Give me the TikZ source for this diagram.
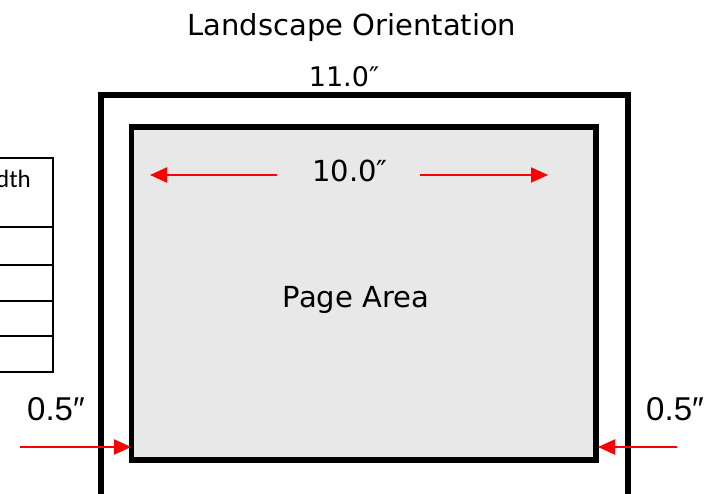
\documentclass[tikz,border=0pt]{standalone}
\usepackage{fontspec}
\setmainfont{DejaVu Sans}
\newfontfamily\arialfont{Liberation Sans}
\newfontfamily\calfont{Carlito}
\usetikzlibrary{arrows.meta}
\definecolor{pagegray}{HTML}{E8E8E8}
\definecolor{arrowred}{HTML}{FF0000}
\tikzset{
  label/.style={inner sep=0pt, anchor=base, font=\fontsize{29}{34}\selectfont},
  dimlabel/.style={inner sep=0pt, anchor=base, font=\arialfont\fontsize{33}{38}\selectfont},
  frame/.style={draw=black, line width=5.5pt},
  redarrow/.style={draw=arrowred, line width=2pt, -{Triangle[length=17pt,width=15pt]}},
  tableline/.style={draw=black, line width=1.3pt}
}
\begin{document}
\begin{tikzpicture}[x=1pt,y=-1pt]
\useasboundingbox (0,0) rectangle (712,493);
\clip (0,0) rectangle (712,493);
% left partial table
\draw[tableline] (-100,158) rectangle (53,372);
\foreach \yy in {227,265,301,336} \draw[tableline] (-100,\yy) -- (53,\yy);
\node[inner sep=0pt, anchor=base east, font=\calfont\fontsize{25}{30}\selectfont] (tw) at (31,187) {Width};
% frames
\draw[frame] (101,95) rectangle (628,540);
\draw[frame, fill=pagegray] (131.5,127) rectangle (596,460);
% labels
\node[label] (title) at (352,35) {Landscape Orientation};
\node[label, font=\fontsize{27}{32}\selectfont] (outerw) at (344,86) {11.0″};
\node[label] (innerw) at (350,181) {10.0″};
\node[label] (page) at (356,307) {Page Area};
\node[dimlabel] (ml) at (56,420) {0.5″};
\node[dimlabel] (mr) at (675,420) {0.5″};
% arrow coordinates
\coordinate (a1s) at (277,175);
\coordinate (a1e) at (150,175);
\coordinate (a2s) at (420,175);
\coordinate (a2e) at (548,175);
\coordinate (a3s) at (20,447);
\coordinate (a3e) at (131,447);
\coordinate (a4s) at (677,447);
\coordinate (a4e) at (598,447);
\draw[redarrow] (a1s) -- (a1e);
\draw[redarrow] (a2s) -- (a2e);
\draw[redarrow] (a3s) -- (a3e);
\draw[redarrow] (a4s) -- (a4e);
\end{tikzpicture}
\end{document}
